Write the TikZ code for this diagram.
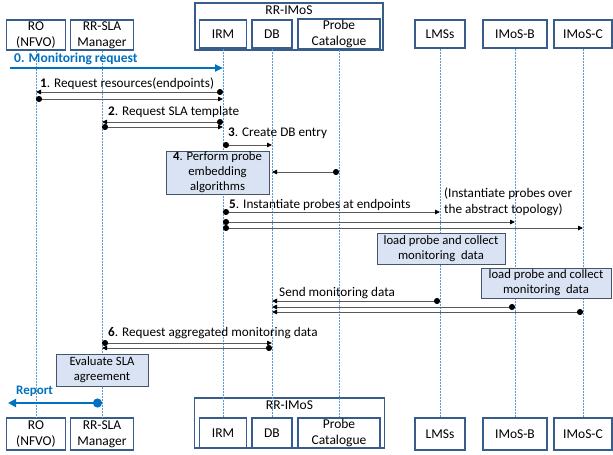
\documentclass[tikz,border=0pt]{standalone}
\usepackage{fontspec}
\setmainfont{Carlito}
\usetikzlibrary{arrows.meta, positioning}
\definecolor{boxblue}{HTML}{385D8A}
\definecolor{lifeblue}{HTML}{5B9BD5}
\definecolor{flowblue}{HTML}{0070C0}
\definecolor{notefill}{HTML}{DAE3F3}
\definecolor{notedraw}{HTML}{44546A}

\begin{document}
\begin{tikzpicture}[x=1pt, y=-1pt,
            every node/.style={font=\fontsize{13.2}{15}\selectfont},
            actor/.style={draw=boxblue, line width=1.4pt, minimum height=29pt, inner sep=1pt, align=center, font=\fontsize{13.5}{16}\selectfont},
            group/.style={draw=boxblue, line width=1.4pt, inner sep=0pt},
            grouplbl/.style={inner sep=0pt, anchor=north, font=\fontsize{13.5}{16}\selectfont},
            life/.style={draw=lifeblue, dash pattern=on 2pt off 1pt, line width=0.5pt},
            msg/.style={{Circle[length=6pt, color=black]}-{Triangle[length=5pt, width=4.5pt, color=black]}, draw=black!65, line width=0.8pt},
            flow/.style={draw=flowblue, line width=2.2pt},
            note/.style={draw=notedraw, fill=notefill, line width=0.8pt, align=center, inner sep=1pt, font=\fontsize{12.7}{15}\selectfont},
            lbl/.style={anchor=west, inner sep=0pt},
            bluelbl/.style={anchor=west, inner sep=0pt, text=flowblue, font=\fontsize{13}{15}\selectfont\bfseries}
        ]
            \useasboundingbox (0,0) rectangle (613,455);

            % --- top row ---
            \node[group, minimum width=188pt, minimum height=47pt] (imos) at (289,26.5) {};
            \node[grouplbl] (imoslbl) at ([yshift=-3pt]imos.north) {RR-IMoS};
            \node[actor, minimum width=59pt, minimum height=30pt] (ro) at (36,35) {RO\\(NFVO)};
            \node[actor, minimum width=63pt, minimum height=30pt] (sla) at (102,35) {RR-SLA\\Manager};
            \node[actor, minimum width=47pt, minimum height=28pt] (irm) at (223,34) {IRM};
            \node[actor, minimum width=40pt, minimum height=28pt] (db) at (272,34) {DB};
            \node[actor, minimum width=82pt, minimum height=28pt] (cat) at (339,34) {Probe\\Catalogue};
            \node[actor, minimum width=50pt, minimum height=28pt] (lms) at (440,34) {LMSs};
            \node[actor, minimum width=64pt, minimum height=28pt] (imb) at (515,34) {IMoS-B};
            \node[actor, minimum width=58pt, minimum height=28pt] (imc) at (583,34) {IMoS-C};

            % --- bottom row ---
            \node[group, minimum width=190pt, minimum height=50pt] (imos2) at (289.5,423) {};
            \node[grouplbl] (imoslbl2) at ([yshift=-3pt]imos2.north) {RR-IMoS};
            \node[actor, minimum width=59pt, minimum height=32pt] (ro2) at (36,434) {RO\\(NFVO)};
            \node[actor, minimum width=63pt, minimum height=32pt] (sla2) at (102,434) {RR-SLA\\Manager};
            \node[actor, minimum width=47pt, minimum height=30pt] (irm2) at (223,433) {IRM};
            \node[actor, minimum width=40pt, minimum height=30pt] (db2) at (272,433) {DB};
            \node[actor, minimum width=82pt, minimum height=30pt] (cat2) at (339,433) {Probe\\Catalogue};
            \node[actor, minimum width=50pt, minimum height=32pt] (lms2) at (440,434) {LMSs};
            \node[actor, minimum width=64pt, minimum height=32pt] (imb2) at (515,434) {IMoS-B};
            \node[actor, minimum width=58pt, minimum height=32pt] (imc2) at (583,434) {IMoS-C};

            % --- lifelines ---
            \foreach \n in {ro,sla,irm,db,cat,lms,imb,imc}
                \draw[life] (\n.south) -- (\n2.north);

            % points on every lifeline at the message heights
            \foreach \m/\y in {0/68, 1/92, 1r/99, 2/122, 2r/127, 3/145, 4/172, 5/212, 5b/222, 5c/228,
                               s1/301, s2/307, s3/312, 6/343, 6r/348, rp/403}
                \foreach \n in {ro,sla,irm,db,cat,lms,imb,imc}
                    \coordinate (\n-\m) at (\n |- 0,\y);
            \coordinate (in-0) at (10,68);
            \coordinate (out-rp) at (8,403);

            % --- messages ---
            \draw[flow, -{Triangle[length=8pt, width=7pt]}] (in-0) -- (irm-0);
            \node[bluelbl, font=\fontsize{13.5}{16}\selectfont\bfseries] (l0) at (14,59) {0. Monitoring request};

            \draw[msg] (irm-1) -- (ro-1);
            \draw[msg] (ro-1r) -- (irm-1r);
            \node[lbl] (l1) at (40,84) {\textbf{1}. Request resources(endpoints)};

            \draw[msg] (irm-2) -- (sla-2);
            \draw[msg] (sla-2r) -- (irm-2r);
            \node[lbl] (l2) at (108,112) {\textbf{2}. Request SLA template};

            \draw[msg] (irm-3) -- (db-3);
            \node[lbl] (l3) at (228,133) {\textbf{3}. Create DB entry};

            \draw[msg] (cat-4) -- (db-4);
            \node[note, minimum width=103pt, minimum height=41pt] (embed) at (217.5,172.5) {\textbf{4}. Perform probe\\embedding\\algorithms};

            \draw[msg] (irm-5) -- (lms-5);
            \draw[msg] (irm-5b) -- (imb-5b);
            \draw[msg] (irm-5c) -- (imc-5c);
            \node[lbl] (l5) at (229,205) {\textbf{5}. Instantiate probes at endpoints};
            \node[lbl, align=left, font=\fontsize{13.2}{16}\selectfont] (l5x) at (444,202) {(Instantiate probes over\\the abstract topology)};

            \node[note, minimum width=128pt, minimum height=31pt] (load1) at (441,248.5) {load probe and collect\\monitoring\ \ data};
            \node[note, minimum width=130pt, minimum height=30pt] (load2) at (546,283) {load probe and collect\\monitoring\ \ data};

            \draw[msg] (lms-s1) -- (db-s1);
            \draw[msg] (imb-s2) -- (db-s2);
            \draw[msg] (imc-s3) -- (db-s3);
            \node[lbl] (ls) at (279,293) {Send monitoring data};

            \draw[msg] (sla-6) -- (db-6);
            \draw[msg] (db-6r) -- (sla-6r);
            \node[lbl] (l6) at (108,333) {\textbf{6}. Request aggregated monitoring data};

            \node[note, minimum width=92pt, minimum height=32pt] (eval) at (102,370) {Evaluate SLA\\agreement};

            \draw[flow, {Circle[length=9pt]}-{Triangle[length=8pt, width=8pt]}] (sla-rp) -- (out-rp);
            \node[bluelbl] (lrep) at (16,391) {Report};
        \end{tikzpicture}
\end{document}
